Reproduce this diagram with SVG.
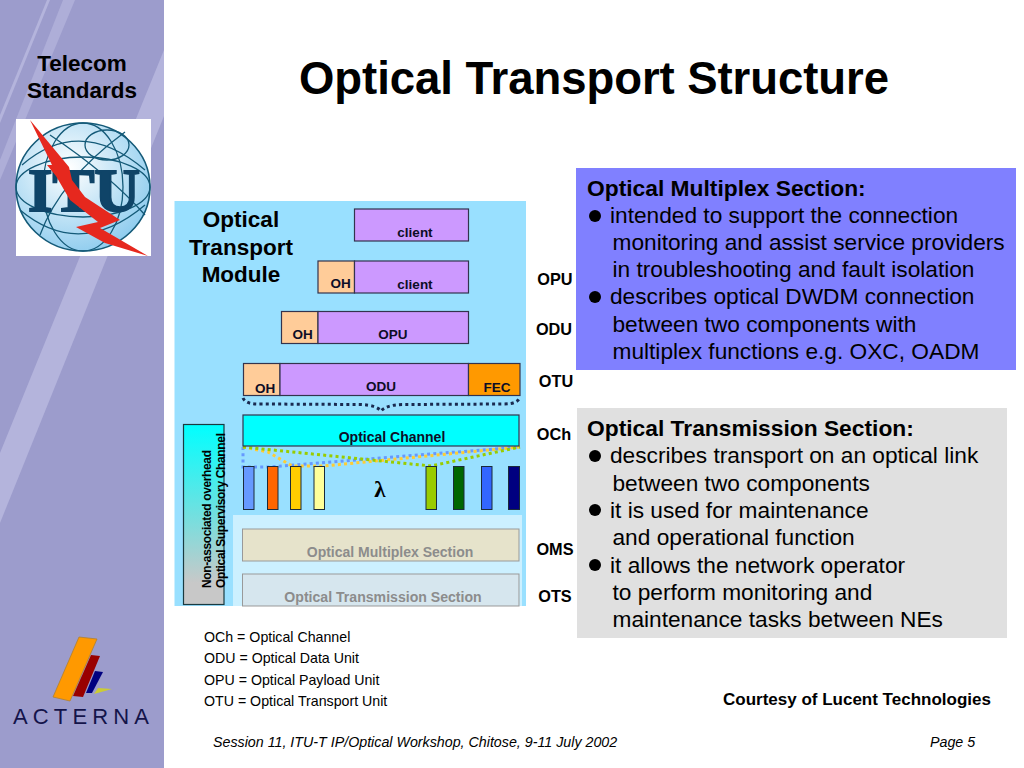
<svg xmlns="http://www.w3.org/2000/svg" width="1024" height="768" viewBox="0 0 1024 768">
<style>
text{font-family:"Liberation Sans",Arial,sans-serif;fill:#000}
.b{font-weight:700}
.box{stroke:#33334d;stroke-width:1.2}
.pur{fill:#cc99ff}.oh{fill:#ffcc99}
.lab{font-size:13.500px;font-weight:700;text-anchor:middle;fill:#0d0d26}
.side{font-size:22.500px;font-weight:700;text-anchor:middle}
.body{font-size:22.700px}
.head{font-size:22.800px;font-weight:700}
.leg{font-size:14.200px}
.bar{stroke:#1a2a3a;stroke-width:1}
.dot{fill:none;stroke-width:3;stroke-dasharray:3 3.2}
.grid{fill:none;stroke:#145a78;stroke-width:1.3}
.rot{font-size:12px;font-weight:700}
</style>
<defs>
<linearGradient id="osc" x1="0" y1="0" x2="0" y2="1"><stop offset="0" stop-color="#00ffff"/><stop offset=".88" stop-color="#c8c8c8"/></linearGradient>
<radialGradient id="globe" cx="0.4" cy="0.35" r="0.7"><stop offset="0" stop-color="#ffffff"/><stop offset="1" stop-color="#8ccbee"/></radialGradient>
</defs>
<rect width="1024" height="768" fill="#fff"/>
<g id="sidebar">
<rect width="164" height="768" fill="#9c9ccc"/>
<polygon points="63,0 75,0 0,180 0,160" fill="#aeaed8"/>
<polygon points="47,0 50,0 0,123 0,115" fill="#b4b4dc"/>
<polygon points="164,50 164,116 0,523 0,453" fill="#b4b4dc"/>
<text class="side" x="82" y="71">Telecom</text>
<text class="side" x="82" y="98">Standards</text>
</g>
<g id="itu-logo">
<rect x="16" y="119" width="135" height="137" fill="#fff"/>
<ellipse cx="83" cy="187" rx="67" ry="64" fill="url(#globe)" stroke="#145a78" stroke-width="1.600"/>
<ellipse cx="83" cy="187" rx="40" ry="64" class="grid"/>
<ellipse cx="83" cy="187" rx="67" ry="30" class="grid"/>
<ellipse cx="107" cy="145" rx="22" ry="15" class="grid"/>
<path class="grid" d="M22,165Q80,115 145,170M20,210Q80,260 145,205M50,135Q110,175 145,215M40,235Q60,180 125,132"/>
<text x="84" y="211" text-anchor="middle" stroke="#0f4468" stroke-width="2" style="font-family:'Liberation Serif',serif;font-size:62px;font-weight:700;fill:#0f4468" textLength="112" lengthAdjust="spacingAndGlyphs">ITU</text>
<polygon points="30,120 69,167 72,180 85,197 120,220 100,228 148,256 105,243 76,227 98,222 70,200 56,176 47,165 52,165" fill="#e6281e"/>
</g>
<g id="acterna-logo">
<polygon points="79,637 97,639 70,701 53,697" fill="#ff9900" stroke="#b08030" stroke-width=".8"/>
<polygon points="91,655 100,656 83,697 73,696" fill="#990000"/>
<polygon points="95,671 103,672 92,693 86,693" fill="#000080"/>
<polygon points="98,688 112,689 94,694" fill="#cccc33"/>
<text x="13" y="724" style="font-size:22px;fill:#14144a" textLength="136">ACTERNA</text>
</g>
<g id="title"><text class="b" x="299" y="94" style="font-size:45.500px" textLength="590">Optical Transport Structure</text></g>
<g id="otm-panel">
<rect x="174.500" y="201" width="351.500" height="405" fill="#99e0ff"/>
<rect x="233" y="515" width="289" height="91" fill="#ccf0ff"/>
<g class="b" style="font-size:22.500px" text-anchor="middle">
<text x="241" y="227">Optical</text><text x="241" y="255">Transport</text><text x="241" y="282">Module</text></g>
</g>
<g id="client-row">
<rect class="box pur" x="354.500" y="209" width="114" height="32"/>
<text class="lab" x="415" y="237">client</text>
</g>
<g id="opu-row">
<rect class="box oh" x="318" y="261" width="36.500" height="32"/>
<rect class="box pur" x="354.500" y="261" width="114" height="32"/>
<text class="lab" x="340.500" y="288">OH</text><text class="lab" x="415" y="289">client</text>
</g>
<g id="odu-row">
<rect class="box oh" x="281.500" y="311.500" width="36.500" height="32"/>
<rect class="box pur" x="318" y="311.500" width="150.500" height="32"/>
<text class="lab" x="302.500" y="339">OH</text><text class="lab" x="393" y="339">OPU</text>
</g>
<g id="otu-row">
<rect class="box oh" x="243.500" y="363.500" width="36.500" height="32"/>
<rect class="box pur" x="280" y="363.500" width="188.500" height="32"/>
<rect class="box" fill="#ff9900" x="468.500" y="363.500" width="51.500" height="32"/>
<text class="lab" x="265" y="393">OH</text><text class="lab" x="381" y="391">ODU</text><text class="lab" x="497" y="392">FEC</text>
</g>
<g id="connectors">
<path class="dot" stroke="#1a2a50" d="M243,398Q246,405 262,404L360,404.500Q376,405 381,411Q386,405 402,404.500L504,404Q518,404 520,397"/>
<path class="dot" stroke="#6699ff" d="M243,447V467H268L380,458L520,447"/>
<path class="dot" stroke="#ffcc33" d="M243,447L268,452L292,466H324L520,447"/>
<path class="dot" stroke="#99cc00" d="M243,447L431,466L520,447"/>
</g>
<g id="optical-channel">
<rect class="box" fill="#00ffff" x="243" y="415" width="276" height="31"/>
<text class="lab" style="font-size:14px" x="392" y="442">Optical Channel</text>
</g>
<g id="wavelengths">
<rect class="bar" fill="#6699ff" x="243.500" y="466.500" width="10.500" height="43"/>
<rect class="bar" fill="#ff6600" x="267.500" y="466.500" width="10.500" height="43"/>
<rect class="bar" fill="#ffcc00" x="290.500" y="466.500" width="10.500" height="43"/>
<rect class="bar" fill="#ffff99" x="314" y="466.500" width="10.500" height="43"/>
<rect class="bar" fill="#99cc00" x="426" y="466.500" width="10.500" height="43"/>
<rect class="bar" fill="#006600" x="453.500" y="466.500" width="10.500" height="43"/>
<rect class="bar" fill="#3366ff" x="481.500" y="466.500" width="10.500" height="43"/>
<rect class="bar" fill="#000080" x="508.500" y="466.500" width="11" height="43"/>
<text x="380" y="497" text-anchor="middle" style="font-family:'Liberation Serif',serif;font-size:23px;font-weight:700">λ</text>
</g>
<g id="osc-box">
<rect x="183.500" y="424.500" width="40.500" height="180" fill="url(#osc)" stroke="#1a3a40" stroke-width="1.200"/>
<text class="rot" transform="translate(211,588) rotate(-90)" textLength="138">Non-associated overhead</text>
<text class="rot" transform="translate(225,588) rotate(-90)" textLength="155">Optical Supervisory Channel</text>
</g>
<g id="oms">
<rect x="242.500" y="529" width="276.500" height="32" fill="#e6e3cb" stroke="#999" stroke-width="1"/>
<text class="lab" style="font-size:14px;fill:#8c8c8c" x="390" y="557">Optical Multiplex Section</text>
</g>
<g id="ots">
<rect x="242.500" y="574" width="276.500" height="32" fill="#d6e6ee" stroke="#999" stroke-width="1"/>
<text class="lab" style="font-size:14.100px;fill:#8c8c8c" x="383" y="602">Optical Transmission Section</text>
</g>
<g id="layer-labels" class="b" style="font-size:16.300px" text-anchor="middle">
<text x="555" y="285">OPU</text><text x="554" y="335">ODU</text><text x="556" y="387">OTU</text><text x="554" y="440">OCh</text><text x="555" y="555">OMS</text><text x="555" y="602">OTS</text>
</g>
<g id="oms-box">
<rect x="576" y="168" width="440" height="202" fill="#8080ff"/>
<text class="head" x="587" y="196">Optical Multiplex Section:</text>
<circle cx="595" cy="216" r="6"/><text class="body" x="610" y="223">intended to support the connection</text>
<text class="body" x="612.500" y="250">monitoring and assist service providers</text>
<text class="body" x="612.500" y="277">in troubleshooting and fault isolation</text>
<circle cx="595" cy="297" r="6"/><text class="body" x="610" y="304">describes optical DWDM connection</text>
<text class="body" x="612.500" y="332">between two components with</text>
<text class="body" x="612.500" y="359">multiplex functions e.g. OXC, OADM</text>
</g>
<g id="ots-box">
<rect x="577" y="408" width="430" height="230" fill="#e0e0e0"/>
<text class="head" x="587" y="436">Optical Transmission Section:</text>
<circle cx="595" cy="456" r="6"/><text class="body" x="610" y="463">describes transport on an optical link</text>
<text class="body" x="612.500" y="491">between two components</text>
<circle cx="595" cy="510" r="6"/><text class="body" x="610" y="518">it is used for maintenance</text>
<text class="body" x="612.500" y="545">and operational function</text>
<circle cx="595" cy="565" r="6"/><text class="body" x="610" y="573">it allows the network operator</text>
<text class="body" x="612.500" y="600">to perform monitoring and</text>
<text class="body" x="612.500" y="627">maintenance tasks between NEs</text>
</g>
<g id="legend">
<text class="leg" x="204" y="642">OCh = Optical Channel</text>
<text class="leg" x="204" y="663">ODU = Optical Data Unit</text>
<text class="leg" x="204" y="685">OPU = Optical Payload Unit</text>
<text class="leg" x="204" y="706">OTU = Optical Transport Unit</text>
</g>
<g id="footer">
<text class="b" x="723" y="705" style="font-size:17px">Courtesy of Lucent Technologies</text>
<text x="213" y="747" style="font-size:14.250px;font-style:italic">Session 11, ITU-T IP/Optical Workshop, Chitose, 9-11 July 2002</text>
<text x="930" y="747" style="font-size:14.250px;font-style:italic">Page 5</text>
</g>
</svg>
